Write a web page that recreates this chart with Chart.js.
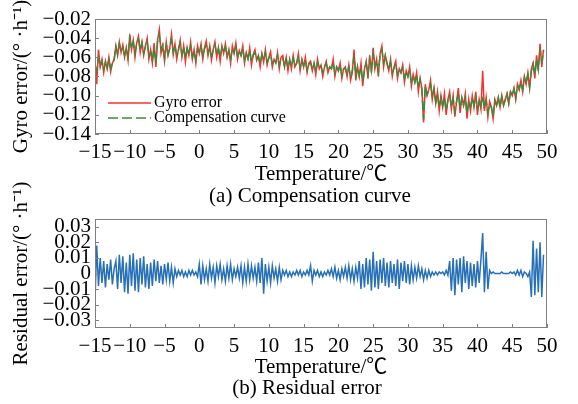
<!DOCTYPE html>
<html>
<head>
<meta charset="utf-8">
<script src="https://cdn.jsdelivr.net/npm/chart.js@4.4.1/dist/chart.umd.min.js"></script>
<style>
    body { margin: 0; background: #fff; width: 578px; height: 404px; position: relative; overflow: hidden;
           font-family: "Liberation Serif", "Times New Roman", "Noto Sans CJK SC", serif; }
    canvas { position: absolute; left: 0; top: 0; }
    .caption { position: absolute; font-size: 21px; line-height: 24px; text-align: center; width: 300px; color: #000; }
</style>
</head>
<body>
<canvas id="gyroChart" width="578" height="404"></canvas>
<canvas id="residualChart" width="578" height="404"></canvas>
<div class="caption" style="left:160px;top:183px">(a) Compensation curve</div>
<div class="caption" style="left:157px;top:375px">(b) Residual error</div>
<script>
// samples every 0.25 ℃ from -15 ℃
const TEMP_START = -15;
const TEMP_STEP = 0.25;

const gyroError = [
    -0.066,-0.088,-0.052,-0.070, -0.062,-0.076,-0.064,-0.072,
    -0.060,-0.075,-0.066,-0.062, -0.048,-0.058,-0.044,-0.055,
    -0.047,-0.060,-0.050,-0.063, -0.036,-0.052,-0.042,-0.060,
    -0.045,-0.038,-0.055,-0.044, -0.058,-0.048,-0.040,-0.062,
    -0.052,-0.066,-0.045,-0.070, -0.042,-0.031,-0.056,-0.048,
    -0.064,-0.044,-0.058,-0.050, -0.036,-0.057,-0.046,-0.062,
    -0.052,-0.042,-0.060,-0.048, -0.065,-0.050,-0.058,-0.044,
    -0.062,-0.052,-0.066,-0.048, -0.056,-0.046,-0.062,-0.050,
    -0.043,-0.058,-0.048,-0.063, -0.052,-0.044,-0.060,-0.050,
    -0.064,-0.048,-0.056,-0.046, -0.060,-0.052,-0.066,-0.048,
    -0.056,-0.045,-0.062,-0.053, -0.058,-0.048,-0.066,-0.055,
    -0.062,-0.050,-0.068,-0.057, -0.052,-0.063,-0.058,-0.070,
    -0.056,-0.065,-0.052,-0.068, -0.060,-0.054,-0.070,-0.062,
    -0.066,-0.055,-0.072,-0.060, -0.058,-0.070,-0.060,-0.074,
    -0.062,-0.072,-0.058,-0.070, -0.066,-0.056,-0.074,-0.062,
    -0.070,-0.060,-0.076,-0.066, -0.064,-0.074,-0.066,-0.078,
    -0.062,-0.072,-0.068,-0.080, -0.070,-0.064,-0.076,-0.070,
    -0.072,-0.062,-0.080,-0.070, -0.074,-0.066,-0.082,-0.072,
    -0.070,-0.080,-0.068,-0.084, -0.076,-0.052,-0.084,-0.070,
    -0.080,-0.066,-0.090,-0.072, -0.064,-0.082,-0.058,-0.076,
    -0.050,-0.072,-0.062,-0.080, -0.056,-0.048,-0.070,-0.058,
    -0.066,-0.074,-0.062,-0.080, -0.070,-0.064,-0.082,-0.072,
    -0.076,-0.068,-0.086,-0.074, -0.080,-0.070,-0.090,-0.078,
    -0.086,-0.076,-0.096,-0.082, -0.092,-0.128,-0.088,-0.100,
    -0.094,-0.084,-0.104,-0.092, -0.108,-0.096,-0.116,-0.100,
    -0.112,-0.098,-0.120,-0.104, -0.096,-0.114,-0.100,-0.122,
    -0.106,-0.092,-0.118,-0.102, -0.110,-0.098,-0.124,-0.104,
    -0.116,-0.100,-0.112,-0.096, -0.120,-0.104,-0.114,-0.074,
    -0.116,-0.102,-0.122,-0.106, -0.112,-0.124,-0.104,-0.110,
    -0.102,-0.112,-0.100,-0.110, -0.104,-0.098,-0.108,-0.096,
    -0.100,-0.092,-0.104,-0.088, -0.094,-0.084,-0.096,-0.080,
    -0.088,-0.076,-0.092,-0.072, -0.066,-0.082,-0.058,-0.074,
    -0.046,-0.070,-0.052
];

const compensation = [
    -0.067,-0.074,-0.060,-0.069, -0.064,-0.073,-0.065,-0.071,
    -0.062,-0.072,-0.066,-0.063, -0.049,-0.056,-0.046,-0.054,
    -0.050,-0.058,-0.052,-0.060, -0.040,-0.051,-0.044,-0.056,
    -0.045,-0.041,-0.052,-0.045, -0.056,-0.049,-0.044,-0.059,
    -0.054,-0.063,-0.050,-0.066, -0.043,-0.036,-0.052,-0.047,
    -0.061,-0.047,-0.057,-0.051, -0.041,-0.055,-0.047,-0.058,
    -0.052,-0.045,-0.057,-0.049, -0.061,-0.051,-0.057,-0.048,
    -0.060,-0.054,-0.063,-0.051, -0.055,-0.049,-0.059,-0.051,
    -0.047,-0.056,-0.050,-0.059, -0.052,-0.047,-0.057,-0.051,
    -0.060,-0.050,-0.055,-0.049, -0.059,-0.053,-0.062,-0.051,
    -0.055,-0.048,-0.059,-0.053, -0.058,-0.051,-0.063,-0.056,
    -0.061,-0.053,-0.065,-0.058, -0.055,-0.062,-0.059,-0.067,
    -0.057,-0.063,-0.055,-0.065, -0.061,-0.057,-0.067,-0.062,
    -0.065,-0.058,-0.069,-0.061, -0.061,-0.069,-0.062,-0.071,
    -0.063,-0.070,-0.061,-0.069, -0.066,-0.059,-0.071,-0.063,
    -0.069,-0.063,-0.073,-0.067, -0.066,-0.073,-0.067,-0.075,
    -0.065,-0.071,-0.069,-0.076, -0.070,-0.066,-0.074,-0.070,
    -0.072,-0.065,-0.077,-0.070, -0.074,-0.068,-0.079,-0.072,
    -0.072,-0.078,-0.070,-0.081, -0.074,-0.058,-0.079,-0.070,
    -0.079,-0.070,-0.085,-0.074, -0.066,-0.078,-0.062,-0.074,
    -0.056,-0.070,-0.063,-0.075, -0.057,-0.052,-0.066,-0.058,
    -0.067,-0.073,-0.065,-0.076, -0.071,-0.067,-0.078,-0.072,
    -0.076,-0.071,-0.082,-0.075, -0.080,-0.074,-0.086,-0.079,
    -0.086,-0.079,-0.092,-0.083, -0.094,-0.125,-0.090,-0.099,
    -0.094,-0.088,-0.100,-0.093, -0.107,-0.099,-0.112,-0.102,
    -0.111,-0.102,-0.116,-0.105, -0.100,-0.112,-0.103,-0.117,
    -0.106,-0.097,-0.113,-0.103, -0.110,-0.102,-0.119,-0.106,
    -0.112,-0.102,-0.110,-0.100, -0.114,-0.106,-0.111,-0.100,
    -0.114,-0.105,-0.118,-0.108, -0.112,-0.122,-0.105,-0.110,
    -0.102,-0.112,-0.101,-0.110, -0.104,-0.098,-0.108,-0.096,
    -0.100,-0.093,-0.103,-0.089, -0.093,-0.086,-0.094,-0.081,
    -0.088,-0.078,-0.091,-0.075, -0.067,-0.078,-0.062,-0.073,
    -0.050,-0.065,-0.053
];

const residual = [
    -0.017,0.018,-0.008,0.010, -0.006,0.008,-0.009,0.006,
    -0.004,0.009,-0.007,0.003, 0.008,-0.010,0.012,-0.006,
    0.011,-0.012,0.007,-0.013, 0.012,-0.008,0.013,-0.011,
    0.009,-0.012,0.010,-0.007, 0.011,-0.009,0.006,-0.010,
    0.007,-0.008,0.009,-0.005, 0.008,-0.006,0.005,-0.007,
    0.006,-0.004,0.007,-0.005, 0.004,-0.006,0.003,-0.002,
    0.002,-0.001,0.002,-0.002, 0.001,-0.002,0.002,-0.001,
    0.002,-0.001,0.001,-0.002, 0.006,-0.007,0.005,-0.004,
    0.003,-0.005,0.006,-0.003, 0.004,-0.006,0.005,-0.002,
    0.006,-0.004,0.003,-0.005, 0.005,-0.003,0.006,-0.004,
    0.003,-0.002,0.004,-0.003, 0.005,-0.006,0.004,-0.005,
    0.006,-0.004,0.005,-0.003, 0.004,-0.005,0.007,-0.006,
    0.010,-0.013,0.006,-0.005, 0.004,-0.006,0.005,-0.003,
    0.003,-0.005,0.004,-0.004, 0.002,-0.001,0.002,-0.002,
    0.001,-0.002,0.001,-0.001, 0.002,-0.001,0.002,-0.002,
    0.001,-0.001,0.002,-0.001, 0.005,-0.005,0.002,-0.001,
    0.002,-0.002,0.001,-0.002, 0.001,-0.001,0.002,-0.001,
    0.003,-0.002,0.004,-0.003, 0.002,-0.004,0.003,-0.002,
    0.004,-0.003,0.005,-0.004, 0.003,-0.005,0.004,-0.003,
    0.008,-0.010,0.006,-0.009, 0.010,-0.007,0.009,-0.011,
    0.014,-0.009,0.008,-0.010, 0.009,-0.006,0.010,-0.008,
    0.007,-0.009,0.008,-0.006, 0.006,-0.008,0.009,-0.010,
    0.007,-0.005,0.008,-0.006, 0.006,-0.007,0.005,-0.004,
    0.004,-0.003,0.005,-0.002, 0.003,-0.004,0.002,-0.003,
    0.002,-0.002,0.001,-0.001, 0.001,-0.001,0.001,0.000,
    0.001,-0.001,0.002,-0.001, 0.008,-0.011,0.010,-0.014,
    0.009,-0.007,0.010,-0.012, 0.011,-0.006,0.008,-0.010,
    0.007,-0.008,0.006,-0.009, 0.008,-0.006,0.009,0.026,
    -0.012,0.014,-0.010,0.002, 0.000,0.001,0.000,0.000,
    0.000,0.000,0.001,0.000, 0.000,0.000,0.000,0.001,
    0.000,0.001,-0.001,0.002, -0.001,0.002,-0.002,0.001,
    0.000,-0.002,0.001,-0.015, 0.021,-0.014,0.016,-0.012,
    0.020,-0.015,0.012
];

const xTicks = [-15, -10, -5, 0, 5, 10, 15, 20, 25, 30, 35, 40, 45, 50];
const gyroTicks = [-0.14, -0.12, -0.10, -0.08, -0.06, -0.04, -0.02];
const residualTicks = [-0.03, -0.02, -0.01, 0, 0.01, 0.02, 0.03];

const temperature = gyroError.map((_, i) => TEMP_START + i * TEMP_STEP);
const toPoints = arr => arr.map((v, i) => ({ x: temperature[i], y: v }));

const SERIF = '"Liberation Serif", "Times New Roman", "Noto Sans CJK SC", serif';
const FRAME = '#7f7f7f';

function fmt(v, digits) {
    if (Math.abs(v) < 1e-9) return '0';
    return (v < 0 ? '\u2212' : '') + Math.abs(v).toFixed(digits);
}

// box around plot + short inward tick marks
const framePlugin = {
    id: 'frame',
    afterDraw(chart) {
        const { ctx, chartArea: a, scales } = chart;
        ctx.save();
        ctx.strokeStyle = FRAME;
        ctx.lineWidth = 1;
        ctx.strokeRect(a.left + 0.5, a.top + 0.5, a.width - 1, a.height - 1);
        ctx.beginPath();
        scales.x.ticks.forEach(t => {
            const px = Math.round(scales.x.getPixelForValue(t.value)) + 0.5;
            ctx.moveTo(px, a.bottom);
            ctx.lineTo(px, a.bottom - 4);
        });
        scales.y.ticks.forEach(t => {
            const py = Math.round(scales.y.getPixelForValue(t.value)) + 0.5;
            ctx.moveTo(a.left, py);
            ctx.lineTo(a.left + 4, py);
        });
        ctx.stroke();
        ctx.restore();
    }
};

// legend drawn inside the plot, lower left
const innerLegend = {
    id: 'innerLegend',
    afterDatasetsDraw(chart) {
        const { ctx, chartArea: a } = chart;
        ctx.save();
        chart.data.datasets.forEach((ds, i) => {
            const y = a.top + 84 + i * 15;
            ctx.strokeStyle = ds.borderColor;
            ctx.lineWidth = 1.6;
            ctx.setLineDash(ds.borderDash || []);
            ctx.beginPath();
            ctx.moveTo(a.left + 13, y);
            ctx.lineTo(a.left + 56, y);
            ctx.stroke();
            ctx.setLineDash([]);
            ctx.fillStyle = '#000';
            ctx.font = '16px ' + SERIF;
            ctx.textBaseline = 'middle';
            ctx.fillText(ds.label, a.left + 59, y);
        });
        ctx.restore();
    }
};

// both canvases cover the whole figure; padding places each panel
function makeOptions(pad, yMin, yMax, yTicks, xHeight, xTitlePad, yTitle) {
    return {
        responsive: false,
        animation: false,
        layout: { padding: { top: pad.top, bottom: pad.bottom, right: 31, left: 0 } },
        plugins: { legend: { display: false }, tooltip: { enabled: false } },
        elements: { point: { radius: 0 }, line: { tension: 0 } },
        scales: {
            x: {
                type: 'linear',
                min: -15,
                max: 50,
                afterBuildTicks: s => { s.ticks = xTicks.map(v => ({ value: v })); },
                afterFit: s => { s.height = xHeight; },
                grid: { display: false, drawTicks: false },
                border: { display: false },
                ticks: {
                    autoSkip: false, maxRotation: 0, padding: 6, color: '#000',
                    font: { family: SERIF, size: 21 },
                    callback: v => fmt(v, 0)
                },
                title: {
                    display: true, text: 'Temperature/℃', color: '#000',
                    font: { family: SERIF, size: 21 },
                    padding: { top: 0, bottom: xTitlePad }
                }
            },
            y: {
                min: yMin,
                max: yMax,
                afterBuildTicks: s => { s.ticks = yTicks.map(v => ({ value: v })); },
                afterFit: s => { s.width = 95; },
                grid: { display: false, drawTicks: false },
                border: { display: false },
                ticks: {
                    autoSkip: false, padding: 4, color: '#000',
                    font: { family: SERIF, size: 21 },
                    callback: v => fmt(v, 2)
                },
                title: {
                    display: true, text: yTitle, color: '#000',
                    font: { family: SERIF, size: 21 },
                    padding: { top: 9, bottom: 0 }
                }
            }
        }
    };
}

new Chart(document.getElementById('gyroChart'), {
    type: 'line',
    data: {
        datasets: [{
            label: 'Gyro error',
            data: toPoints(gyroError),
            borderColor: '#f5332a',
            borderWidth: 1.5,
            order: 2
        }, {
            label: 'Compensation curve',
            data: toPoints(compensation),
            borderColor: '#3b8a3e',
            borderWidth: 1.5,
            borderDash: [10, 4],
            order: 1
        }]
    },
    options: makeOptions({ top: 19, bottom: 204 }, -0.14, -0.02, gyroTicks, 66, 13, 'Gyro error/(° ·h⁻¹)'),
    plugins: [framePlugin, innerLegend]
});

new Chart(document.getElementById('residualChart'), {
    type: 'line',
    data: {
        datasets: [{
            label: 'Residual error',
            data: toPoints(residual),
            borderColor: '#2770b6',
            borderWidth: 1.5
        }]
    },
    options: makeOptions({ top: 219, bottom: 0 }, -0.035, 0.035, residualTicks, 76, 24, 'Residual error/(° ·h⁻¹)'),
    plugins: [framePlugin]
});
</script>
</body>
</html>
